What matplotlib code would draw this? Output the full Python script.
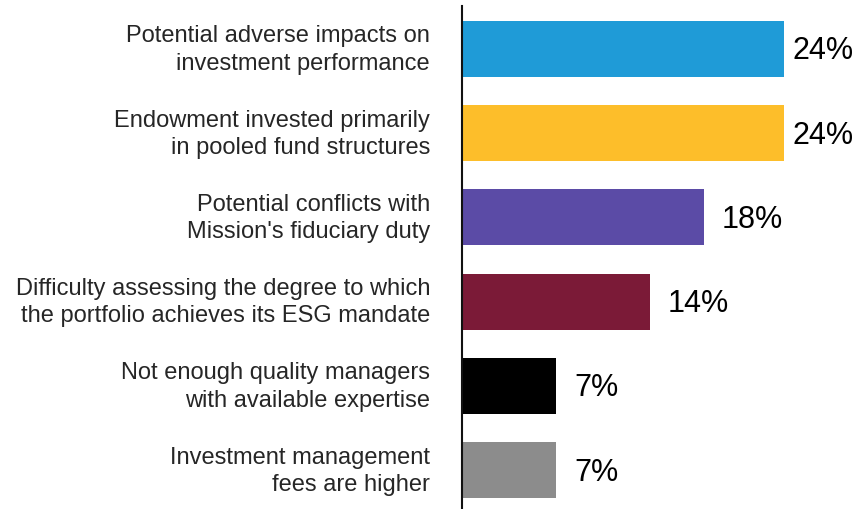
import matplotlib
matplotlib.use("Agg")
import matplotlib.pyplot as plt
from matplotlib.transforms import offset_copy

plt.rcParams['font.family'] = ['Liberation Sans', 'DejaVu Sans']

categories = [
    "Potential adverse impacts on\ninvestment performance",
    "Endowment invested primarily\nin pooled fund structures",
    "Potential conflicts with\nMission's fiduciary duty",
    "Difficulty assessing the degree to which\nthe portfolio achieves its ESG mandate",
    "Not enough quality managers\nwith available expertise",
    "Investment management\nfees are higher",
]
values = [24, 24, 18, 14, 7, 7]
colors = ["#1F9BD7", "#FDBE2A", "#5B4BA6", "#7B1A37", "#000000", "#8C8C8C"]

W, H = 859, 510
fig = plt.figure(figsize=(W / 100, H / 100), dpi=100)
ax = fig.add_axes([462 / W, 0 / H, (784 - 462) / W, 503 / H])

pos = list(range(len(values)))
ax.barh(pos, values, height=0.665, color=colors, zorder=2)
ax.set_xlim(0, max(values))
ax.set_ylim(len(values) - 0.54, -0.51)

for s in ["top", "right", "bottom"]:
    ax.spines[s].set_visible(False)
ax.spines["left"].set_linewidth(1.5)
ax.spines["left"].set_color("#111111")
ax.set_xticks([])
ax.set_yticks([])

# category labels, right-aligned to the left of the axis
lab_tr = offset_copy(ax.get_yaxis_transform(), fig=fig, x=-23, y=0, units="points")
for p, c in zip(pos, categories):
    ax.text(0, p, c, transform=lab_tr, ha="right", va="center",
            multialignment="right", fontsize=17, color="#262626",
            linespacing=1.3)

# value labels at bar ends
for p, v in zip(pos, values):
    pad = 6 if v >= max(values) else 13
    ax.annotate(f"{v}%", xy=(v, p), xytext=(pad, -1), textcoords="offset points",
                ha="left", va="center", fontsize=22, color="#000000",
                annotation_clip=False)

fig.savefig("out.png", dpi=100)
